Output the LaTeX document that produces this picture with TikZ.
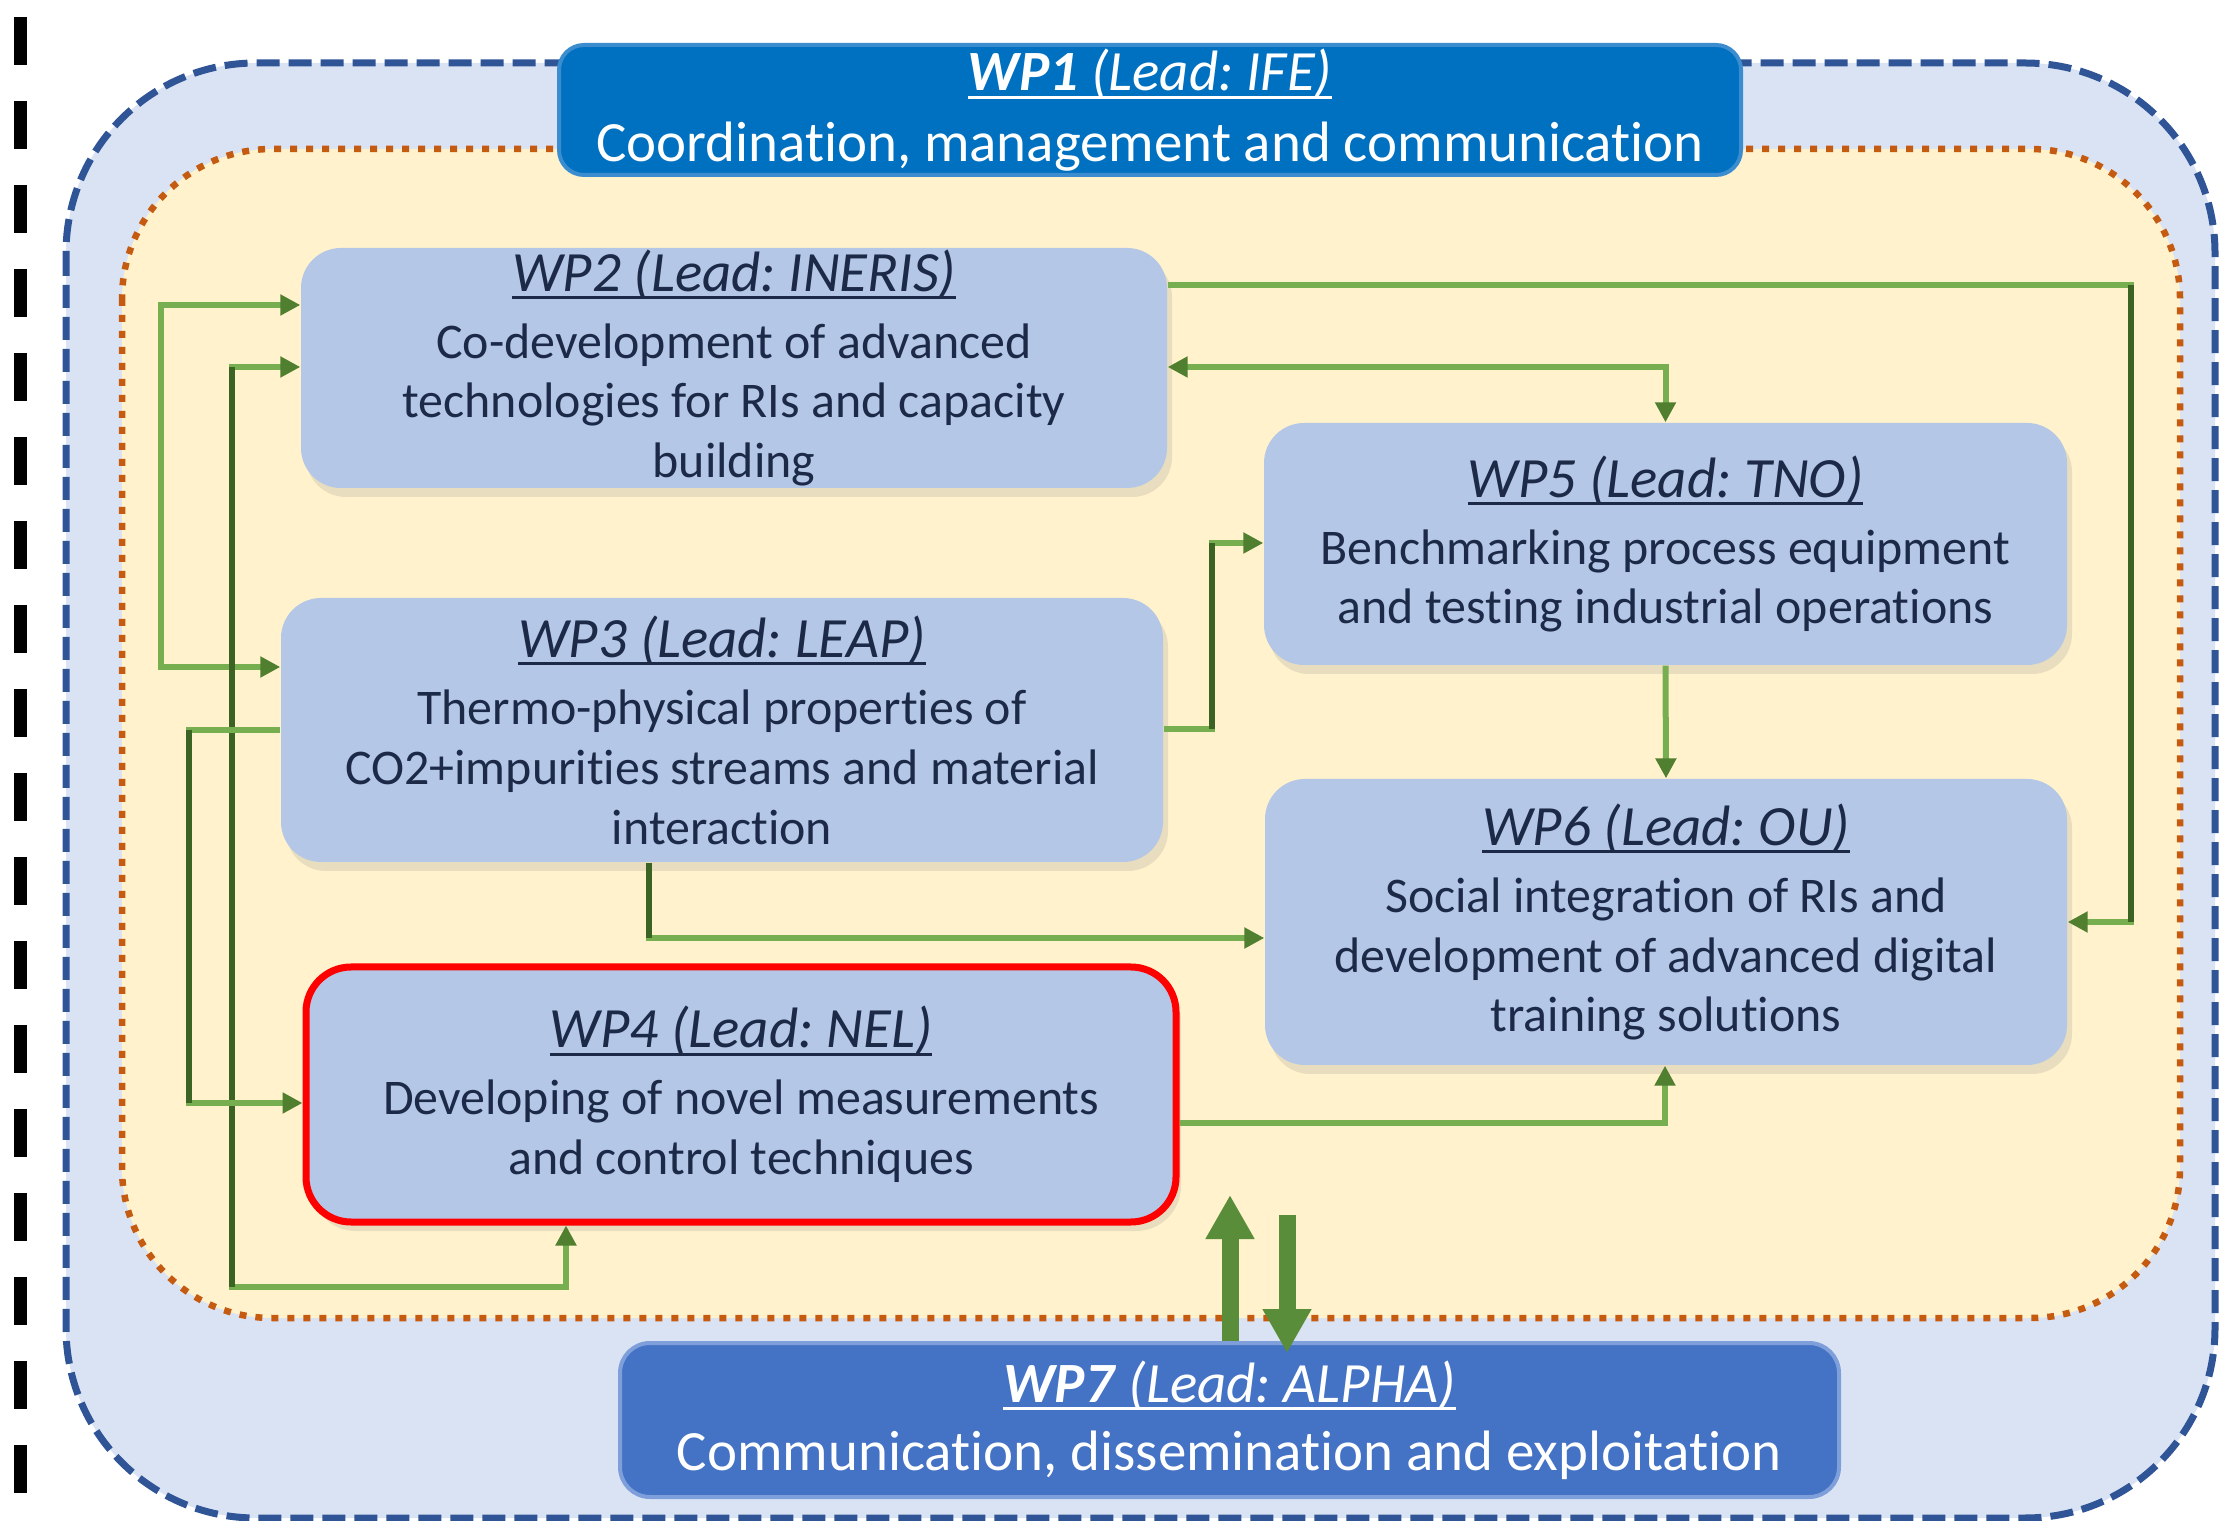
\documentclass[tikz,border=0pt]{standalone}
\usepackage{fontspec}
\setmainfont{Carlito}[Ligatures=NoCommon]
\usetikzlibrary{arrows.meta,shadows,calc}
\frenchspacing
\definecolor{outerfill}{HTML}{DAE3F3}
\definecolor{outerline}{HTML}{2F5597}
\definecolor{innerfill}{HTML}{FFF2CC}
\definecolor{innerline}{HTML}{C55A11}
\definecolor{wpfill}{HTML}{B4C7E7}
\definecolor{wptext}{HTML}{1C2A48}
\definecolor{wponefill}{HTML}{0070C0}
\definecolor{wponeline}{HTML}{3C8DD0}
\definecolor{wpsevenfill}{HTML}{4472C4}
\definecolor{wpsevenline}{HTML}{7F9FDA}
\definecolor{glight}{HTML}{76AE50}
\definecolor{gdark}{HTML}{3B6324}
\definecolor{ghead}{HTML}{4F7F2F}
\definecolor{gbig}{HTML}{5A8D3A}
\newsavebox\ulbox
\newcommand\ulin[1]{\sbox\ulbox{#1}\rlap{\rule[-0.14em]{\wd\ulbox}{0.055em}}\usebox\ulbox}
\newcommand\bodyfnt{\fontsize{14.2pt}{17.07pt}\selectfont}
\newcommand\titlefnt{\fontsize{16.2pt}{17.07pt}\selectfont\itshape}
\newcommand\bigfnt{\fontsize{16.2pt}{20pt}\selectfont}
\tikzset{
  x=0.1mm, y=-0.1mm,
  wp/.style={fill=wpfill, rounded corners=4mm, inner sep=0pt, align=center,
    text=wptext, font=\bodyfnt,
    drop shadow={opacity=0.18, shadow xshift=0.5mm, shadow yshift=-0.9mm}},
  wpdark/.style={rounded corners=2.5mm, inner sep=0pt, align=center,
    text=white, font=\bigfnt, line width=0.4mm},
  gtip/.tip={Triangle[length=2mm,width=2mm,color=ghead]},
  bigtip/.tip={Triangle[length=4.4mm,width=4.6mm,color=gbig]},
  conn/.style={draw=glight, line width=0.6mm},
  vdark/.style={draw=gdark, line width=0.6mm},
  big/.style={draw=gbig, line width=1.7mm},
}
\begin{document}
\begin{tikzpicture}
\useasboundingbox (0,0) rectangle (2235,1521);
% left black dashed rule
\draw[line width=1.3mm, dash pattern=on 4.8mm off 3.6mm] (20,17) -- (20,1493);
% outer and inner frames
\path[draw=outerline, fill=outerfill, line width=0.7mm, dash pattern=on 2.3mm off 0.9mm,
  rounded corners=19mm] (66,63) rectangle (2215,1518);
\path[draw=innerline, fill=innerfill, line width=0.65mm, dash pattern=on 0.7mm off 0.9mm,
  rounded corners=15mm] (122,149) rectangle (2180,1318);
% nodes
\node[wpdark, fill=wponefill, draw=wponeline, minimum width=118.2mm, minimum height=13mm]
  (wp1) at (1150,110) {\ulin{\textbf{\textit{WP1}} \textit{(Lead: IFE)}}\\Coordination, management and communication};
\node[wp, minimum width=86.6mm, minimum height=24mm] (wp2) at (734,368)
  {{\titlefnt\ulin{WP2 (Lead: INERIS)}}\\[0.7mm]Co-development of advanced\\technologies for RIs and capacity\\building};
\node[wp, minimum width=88.2mm, minimum height=26.4mm] (wp3) at (722,730)
  {{\titlefnt\ulin{WP3 (Lead: LEAP)}}\\[0.7mm]Thermo-physical properties of\\CO2+impurities streams and material\\interaction};
\node[wp, draw=red, line width=0.7mm, rounded corners=4.5mm, minimum width=87mm, minimum height=25.5mm] (wp4) at (741,1094.5)
  {{\titlefnt\ulin{WP4 (Lead: NEL)}}\\[0.7mm]Developing of novel measurements\\and control techniques};
\node[wp, minimum width=80.3mm, minimum height=24.2mm] (wp5) at (1665.5,544)
  {{\titlefnt\ulin{WP5 (Lead: TNO)}}\\[0.7mm]Benchmarking process equipment\\and testing industrial operations};
\node[wp, minimum width=80.2mm, minimum height=28.6mm] (wp6) at (1666,922)
  {{\titlefnt\ulin{WP6 (Lead: OU)}}\\[0.7mm]Social integration of RIs and\\development of advanced digital\\training solutions};
\node[wpdark, fill=wpsevenfill, draw=wpsevenline, rounded corners=3mm, minimum width=121.9mm, minimum height=15.4mm,
  font=\fontsize{16.2pt}{19.4pt}\selectfont]
  (wp7) at (1229.5,1420) {\ulin{\textbf{\textit{WP7}} \textit{(Lead: ALPHA)}}\\Communication, dissemination and exploitation};
% corner coordinates
\coordinate (k1a) at (2131,285);  \coordinate (k1b) at (2131,922);
\coordinate (k3a) at (161,305);   \coordinate (k3b) at (161,667);
\coordinate (k4a) at (232,367);   \coordinate (k4b) at (232,1287); \coordinate (k4c) at (566,1287);
\coordinate (k5a) at (189,730);   \coordinate (k5b) at (189,1103);
\coordinate (k6a) at (1212,729);  \coordinate (k6b) at (1212,543);
\coordinate (k7a) at (649,938);
\coordinate (k9a) at (1665,1123);
\coordinate (upend) at (1230,1195);
\coordinate (downstart) at (1287,1215);
% connectors
\draw[conn,-gtip] (wp2.east |- k1a) -- (k1a) -- (k1b) -- (wp6.east);
\draw[vdark] (k1a) -- (k1b);
\draw[conn,gtip-gtip] (wp2.east |- k4a) -| (wp5.north);
\draw[conn,gtip-gtip] (wp2.west |- k3a) -- (k3a) -- (k3b) -- (wp3.west |- k3b);
\draw[conn,gtip-gtip] (wp2.west |- k4a) -- (k4a) -- (k4b) -- (k4c) -- (wp4.south -| k4c);
\draw[vdark] (k4a) -- (k4b);
\draw[conn,-gtip] (wp3.west |- k5a) -- (k5a) -- (k5b) -- (wp4.west |- k5b);
\draw[vdark] (k5a) -- (k5b);
\draw[conn,-gtip] (wp3.east |- k6a) -- (k6a) -- (k6b) -- (wp5.west |- k6b);
\draw[vdark] (k6a) -- (k6b);
\draw[conn,-gtip] (wp3.south -| k7a) -- (k7a) -- (wp6.west |- k7a);
\draw[vdark] (wp3.south -| k7a) -- (k7a);
\draw[conn,-gtip] (wp5.south) -- (wp6.north);
\draw[conn,-gtip] (wp4.east |- k9a) -- (k9a) -- (wp6.south -| k9a);
% big arrows to and from WP7
\draw[big,-bigtip] (wp7.north -| upend) -- (upend);
\draw[big,-bigtip] (downstart) -- ($(wp7.north -| downstart)+(0,12)$);
\end{tikzpicture}
\end{document}
